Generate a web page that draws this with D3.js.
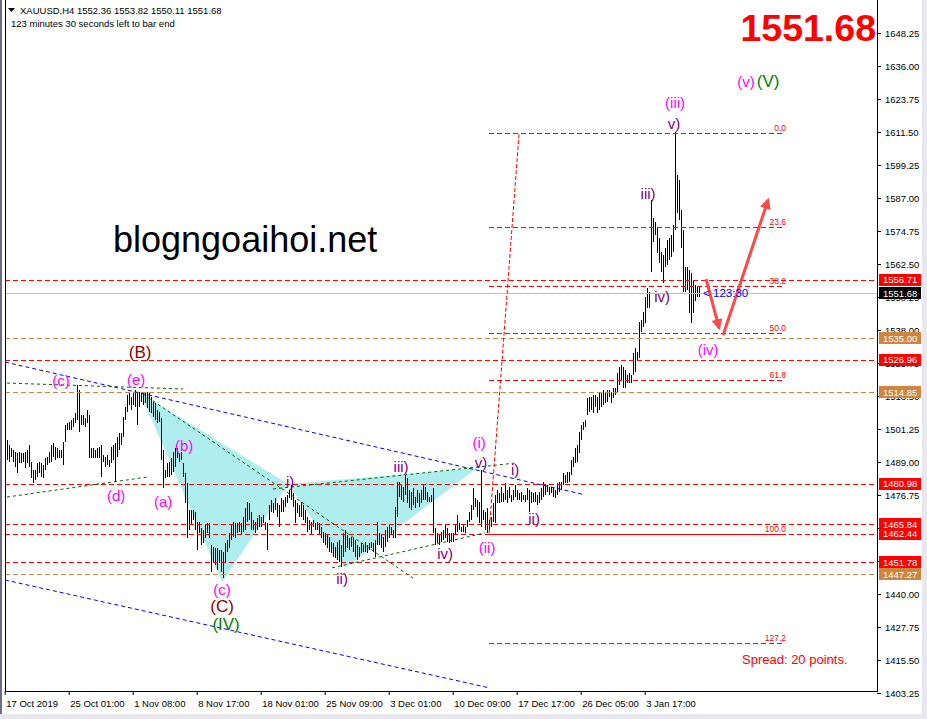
<!DOCTYPE html>
<html><head><meta charset="utf-8">
<script src="https://cdn.jsdelivr.net/npm/d3@7"></script>
<style>
html,body{margin:0;padding:0;background:#fff;}
svg{display:block;font-family:"Liberation Sans",Arial,sans-serif;}
</style></head><body>
<svg id="c" width="927" height="719"></svg>
<script>
// ---------- DATA ----------
const symbolHeader = "XAUUSD,H4  1552.36 1553.82 1550.11 1551.68";
const timerText = "123 minutes 30 seconds left to bar end";
const lastPrice = 1551.68;

const highs = [
1497.2,1495.3,1494.1,1493.5,1492.8,1492.2,1492.8,1492.2,1492.5,1492.8,
1493.5,1495.3,1489.1,1486.0,1486.0,1488.5,1489.1,1488.5,1487.9,1490.4,
1491.0,1492.8,1495.3,1495.9,1494.7,1494.1,1493.5,1493.5,1496.5,1502.7,
1503.4,1504.0,1504.6,1505.2,1507.1,1517.6,1515.7,1506.4,1506.4,1505.2,
1508.3,1506.4,1494.1,1494.1,1493.5,1494.1,1494.7,1495.3,1491.6,1491.0,
1491.6,1489.7,1494.7,1495.3,1495.9,1498.4,1499.7,1499.7,1505.8,1509.5,
1513.9,1514.5,1513.3,1515.1,1515.7,1515.1,1515.1,1515.1,1515.1,1514.5,
1515.1,1514.5,1513.3,1511.4,1510.8,1508.3,1507.7,1505.2,1493.5,1486.0,
1488.5,1489.1,1490.4,1492.8,1494.1,1494.1,1492.2,1492.8,1488.5,1484.8,
1481.1,1471.2,1471.2,1471.2,1470.6,1466.9,1466.9,1464.4,1463.8,1465.6,
1466.3,1466.3,1458.2,1457.6,1457.0,1457.0,1456.3,1456.3,1455.7,1458.8,
1460.1,1462.5,1465.6,1466.9,1466.3,1466.3,1466.9,1466.3,1468.7,1471.8,
1474.3,1473.7,1470.6,1467.5,1466.9,1468.1,1469.3,1468.7,1469.3,1466.9,
1466.3,1473.0,1474.9,1473.7,1475.5,1473.7,1473.0,1475.5,1474.9,1476.1,
1476.8,1478.6,1480.5,1477.4,1474.9,1473.7,1473.0,
1474.3,1473.0,1471.2,1468.7,1467.5,1466.9,1467.5,1466.3,1466.9,1466.3,
1465.0,1463.1,1462.5,1461.9,1461.3,1459.4,1458.8,1457.6,1459.4,1460.1,
1458.2,1462.5,1463.8,1461.9,1460.7,1461.3,1460.7,1460.1,1458.2,1457.6,
1458.8,1458.2,1459.4,1458.2,1458.8,1459.4,1458.8,1460.1,1466.9,1462.5,
1461.9,1461.3,1463.8,1465.0,1465.6,1465.0,1463.8,1472.4,1481.7,1481.7,
1480.5,1479.8,1484.2,1482.9,1478.6,1478.0,1479.2,1476.1,1478.6,1477.4,
1478.6,1480.5,1479.8,1478.0,1476.1,1476.8,1479.2,1464.4,1462.5,1461.9,
1463.1,1463.8,1465.6,1464.4,1462.5,1462.5,1462.5,1465.6,1469.3,1466.3,
1465.0,1465.6,1465.0,1467.5,1470.6,1473.0,1479.2,1475.5,1474.9,1474.3,
1486.0,1471.2,1470.6,1471.8,1467.5,1468.7,1473.7,1476.8,1478.6,1477.4,
1479.8,1477.4,1481.1,1478.6,1479.8,1476.8,1478.6,1480.5,1478.6,1477.4,
1478.0,1476.8,1476.8,1479.2,1478.6,1478.0,1477.4,1478.0,1476.8,1478.0,
1479.2,1481.7,1480.5,1480.5,1479.8,1479.8,1479.2,1478.6,1481.1,1481.7,
1481.7,1484.8,1484.2,1485.4,1485.4,1489.7,1491.0,1494.1,1495.3,1500.3,
1502.7,1504.0,1504.6,
1512.6,1513.3,1513.3,1513.9,1513.9,1513.3,1514.5,1515.1,1515.7,1515.1,
1515.7,1515.7,1515.1,1516.4,1516.4,1521.9,1524.4,1525.0,1524.4,1523.2,
1521.3,1521.9,1521.3,1529.3,1531.2,1529.9,1541.1,1541.7,1544.8,1550.4,
1553.5,1552.2,
1586.3,1579.5,1578.2,1576.3,1572.0,1567.1,1565.8,1568.3,1571.4,1572.0,
1573.3,1577.0,1611.6,1595.5,1593.7,1582.5,1575.1,1561.5,1561.5,1560.3,
1559.0,1556.6,1554.7,1554.1,1553.82
];
const lows = [
1489.7,1489.1,1491.0,1489.1,1487.3,1484.8,1488.5,1488.5,1489.1,1486.7,
1488.5,1487.3,1482.9,1481.1,1482.3,1483.6,1484.8,1483.6,1482.9,1486.0,
1487.9,1488.5,1489.1,1491.0,1489.7,1490.4,1490.4,1490.4,1487.9,1496.5,
1500.9,1500.9,1500.9,1502.1,1503.4,1504.6,1500.3,1502.7,1502.7,1502.1,
1503.4,1490.4,1490.4,1490.4,1490.4,1490.4,1490.4,1483.6,1489.1,1487.3,
1488.0,1487.3,1488.5,1489.7,1481.7,1491.0,1493.5,1495.3,1498.4,1504.6,
1507.7,1510.2,1508.3,1510.2,1509.5,1502.7,1509.5,1511.4,1510.2,1510.8,
1508.9,1507.7,1507.1,1505.8,1504.6,1503.4,1504.0,1489.7,1479.2,1482.9,
1483.6,1483.6,1484.2,1485.4,1487.3,1490.4,1489.1,1489.7,1483.6,1473.7,
1460.7,1463.8,1465.6,1467.5,1463.8,1456.3,1462.5,1458.2,1458.8,1460.7,
1462.5,1460.7,1448.3,1451.4,1450.8,1448.9,1451.4,1448.3,1445.8,1452.0,
1455.7,1457.0,1460.1,1461.3,1460.7,1462.5,1463.1,1461.9,1463.1,1463.8,
1466.9,1467.5,1463.8,1463.8,1462.5,1463.8,1465.0,1465.0,1466.3,1463.8,
1456.3,1467.5,1470.6,1470.0,1471.2,1468.7,1465.0,1470.6,1470.6,1472.4,
1473.7,1475.5,1474.9,1472.4,1466.3,1470.0,1468.7,
1468.7,1467.5,1466.3,1463.1,1463.8,1461.9,1465.0,1463.8,1463.8,1461.9,
1460.7,1458.8,1458.2,1457.0,1455.7,1455.1,1453.9,1453.3,1452.6,1452.0,
1450.2,1453.9,1455.7,1457.0,1456.3,1457.6,1455.7,1453.9,1452.6,1453.9,
1455.1,1455.7,1455.7,1455.1,1456.3,1457.0,1455.7,1453.9,1458.2,1458.2,
1457.0,1455.7,1457.6,1459.4,1460.7,1461.9,1460.7,1460.7,1468.7,1476.1,
1474.9,1474.3,1476.8,1473.7,1471.8,1471.2,1473.0,1471.8,1473.7,1472.4,
1473.7,1474.9,1474.9,1474.3,1474.3,1474.3,1462.5,1458.2,1458.8,1458.2,
1459.4,1460.1,1460.7,1459.4,1458.8,1459.4,1459.4,1461.9,1463.1,1463.8,
1463.1,1463.1,1462.5,1465.0,1466.9,1467.5,1471.2,1472.4,1468.7,1466.3,
1465.0,1467.5,1463.8,1462.5,1463.8,1465.0,1466.9,1466.3,1473.7,1473.7,
1474.3,1474.3,1474.9,1473.7,1475.5,1474.3,1474.9,1476.1,1474.9,1474.9,
1474.3,1474.9,1474.3,1474.9,1470.6,1473.7,1474.3,1474.3,1473.0,1473.7,
1474.9,1476.1,1476.8,1478.0,1476.8,1477.4,1476.1,1475.5,1476.8,1478.0,
1478.6,1480.5,1481.1,1481.1,1481.7,1484.2,1487.3,1488.5,1489.1,1492.2,
1497.2,1500.9,1502.1,
1506.4,1507.7,1508.3,1507.1,1509.5,1507.1,1508.3,1509.5,1510.2,1510.8,
1511.4,1513.3,1510.8,1512.6,1513.9,1514.5,1517.6,1519.4,1516.4,1516.4,
1518.2,1518.2,1518.2,1521.3,1522.5,1526.9,1527.5,1537.4,1539.2,1540.5,
1546.1,1546.1,
1559.6,1570.8,1573.3,1566.5,1562.8,1559.6,1555.3,1561.5,1562.1,1564.0,
1565.2,1567.1,1575.1,1581.3,1578.8,1568.3,1552.2,1552.2,1552.9,1544.2,
1540.5,1544.2,1548.9,1550.4,1550.11
];

const yTicks = [1648.25,1636.00,1623.75,1611.50,1599.25,1587.00,1574.75,1562.50,1550.25,1538.00,
  1525.75,1513.50,1501.25,1489.00,1476.75,1464.50,1452.25,1440.00,1427.75,1415.50,1403.25];
const xTickBars = [-1,31,63,95,127,159,191,223,255,287,319];
const xTickLabels = ["17 Oct 2019","25 Oct 01:00","1 Nov 08:00","8 Nov 17:00","18 Nov 01:00",
  "25 Nov 09:00","3 Dec 01:00","10 Dec 09:00","17 Dec 17:00","26 Dec 05:00","3 Jan 17:00"];

// horizontal price levels: kind r = red line, o = orange zone line
const levelPrices = [1556.71,1535.00,1526.96,1514.85,1480.98,1465.84,1462.44,1451.78,1447.27];
const levelKinds  = ["r","o","r","o","r","r","r","r","o"];

// fibonacci
const fibLevels = [0.0,23.6,38.2,50.0,61.8,100.0,127.2];
const fibHigh = 1611.3, fibLow = 1462.44;
const fibFromBar = 241, fibToBar = 389;
const fibDiag = [241.2,1462.6,256.2,1611.1];

// trendlines [bar1, price1, bar2, price2]
const blueLines = [[-0.85,1526.1,289.2,1476.8],[-0.85,1445.2,241.7,1405.1]];
const greenLines = [[0.15,1518.3,88.2,1516.1],[0.15,1476.0,70.2,1483.4],
  [68.2,1514.2,203.2,1445.9],[133.2,1479.0,254.2,1488.6],[162.7,1449.7,239.2,1462.7]];
// harmonic pattern triangles
const triangles = [
  [[66.7,1514.6],[107.7,1444.5],[140.7,1480.8]],
  [[140.7,1480.8],[169.2,1449.7],[235.2,1486.8]]
];
// projected path arrows
const arrows = [[349.7,1556.9,356.2,1538.7],[358.2,1536.1,380.7,1586.3]];

// wave labels: text, bar, price, kind (m=magenta minor, p=purple, r=dark red, g=green)
const waveText  = ["(B)","(e)","(c)","(d)","(a)","(b)","(c)","(C)","(IV)","i)","ii)","iii)","iv)",
  "(i)","v)","(ii)","i)","ii)","iii)","iv)","(iii)","v)","(iv)","(v)","(V)"];
const waveBar   = [66.7,64.7,27.2,54.7,78.2,88.7,107.7,107.7,109.7,141.7,167.7,197.2,219.2,
  236.2,237.2,240.2,254.2,263.7,320.7,327.7,334.2,333.7,350.7,369.7,380.7];
const wavePrice = [1529.8,1519.8,1519.1,1476.4,1474.2,1495.3,1441.7,1435.3,1428.7,1481.9,1445.9,1487.2,1454.9,
  1496.1,1489.0,1457.4,1486.4,1468.2,1588.5,1550.3,1622.3,1614.5,1530.9,1630.1,1630.1];
const waveKind  = ["r","m","m","m","m","m","m","r","g","p","p","p","p",
  "m","p","m","p","p","p","p","m","p","m","m","g"];

const watermark = "blogngoaihoi.net";
const spreadText = "Spread: 20 points.";
const countdown = "< 123:30";

// ---------- LAYOUT ----------
const W = 927, H = 719;
const plotL = 5, plotR = 877, plotB = 691, plotT = 0;
const xs = d3.scaleLinear().domain([0, highs.length - 1]).range([6.7, 6.7 + 2 * (highs.length - 1)]);
const ys = d3.scaleLinear().domain([1403.25, 1648.25]).range([693, 33]);
const kindColor = {m:"#FF00FF", p:"#800080", r:"#8B0000", g:"#008000"};
const levelColor = {r:"#FF0000", o:"#CD853F"};
const RED = "#FF0000";

const svg = d3.select("#c");
svg.append("rect").attr("width",W).attr("height",H).attr("fill","#fff");
const defs = svg.append("defs");
defs.append("clipPath").attr("id","plot").append("rect")
  .attr("x",plotL).attr("y",plotT).attr("width",plotR-plotL).attr("height",plotB-plotT);
defs.append("marker").attr("id","ah").attr("viewBox","0 0 10 10").attr("refX",8).attr("refY",5)
  .attr("markerWidth",13).attr("markerHeight",11).attr("markerUnits","userSpaceOnUse").attr("orient","auto")
  .append("path").attr("d","M0,0 L10,5 L0,10 Z").attr("fill","#FF4848");

const g = svg.append("g").attr("clip-path","url(#plot)");

// triangles
g.selectAll("path.tri").data(triangles).join("path").attr("class","tri")
  .attr("d", t => d3.line().x(d=>xs(d[0])).y(d=>ys(d[1]))(t) + "Z")
  .attr("fill","#AFEEEE").attr("stroke","none");

// watermark
g.append("text").attr("x",113).attr("y",252).attr("font-size",36).attr("fill","#000").text(watermark);

// bars
g.append("g").selectAll("line").data(highs).join("line")
  .attr("x1",(d,i)=>Math.round(xs(i))+0.5).attr("x2",(d,i)=>Math.round(xs(i))+0.5)
  .attr("y1",(d)=>Math.round(ys(d)))
  .attr("y2",(d,i)=>Math.max(Math.round(ys(lows[i])), Math.round(ys(d))+1))
  .attr("stroke","#000").attr("stroke-width",1).attr("shape-rendering","crispEdges");

// current price line
g.append("line").attr("x1",plotL).attr("x2",plotR).attr("y1",Math.round(ys(lastPrice))+0.5)
  .attr("y2",Math.round(ys(lastPrice))+0.5).attr("stroke","#C0C0C0").attr("shape-rendering","crispEdges");

// levels
g.selectAll("line.lvl").data(levelPrices).join("line").attr("class","lvl")
  .attr("x1",plotL).attr("x2",plotR)
  .attr("y1",d=>Math.round(ys(d))+0.5).attr("y2",d=>Math.round(ys(d))+0.5)
  .style("stroke",(d,i)=>levelColor[levelKinds[i]]).attr("stroke-dasharray","5,3")
  .attr("shape-rendering","crispEdges");

// fib
const fibPrice = l => fibHigh - (fibHigh - fibLow) * l / 100;
const fibX1 = Math.round(xs(fibFromBar)), fibX2 = Math.round(xs(fibToBar));
g.selectAll("line.fib").data(fibLevels).join("line").attr("class","fib")
  .attr("x1",fibX1).attr("x2",fibX2)
  .attr("y1",d=>Math.round(ys(fibPrice(d)))+0.5).attr("y2",d=>Math.round(ys(fibPrice(d)))+0.5)
  .style("stroke",RED).attr("stroke-width",1).attr("stroke-dasharray","5,3").attr("shape-rendering","crispEdges");
g.selectAll("text.fib").data(fibLevels).join("text").attr("class","fib")
  .attr("x",fibX2+1).attr("y",d=>ys(fibPrice(d))-2).attr("text-anchor","end")
  .attr("font-size",8.5).style("fill",RED).text(d=>d.toFixed(1));
g.append("line").attr("x1",xs(fibDiag[0])).attr("y1",ys(fibDiag[1]))
  .attr("x2",xs(fibDiag[2])).attr("y2",ys(fibDiag[3]))
  .style("stroke",RED).attr("stroke-dasharray","4,2");

// trendlines
g.selectAll("line.blue").data(blueLines).join("line").attr("class","blue")
  .attr("x1",d=>xs(d[0])).attr("y1",d=>ys(d[1])).attr("x2",d=>xs(d[2])).attr("y2",d=>ys(d[3]))
  .style("stroke","#0000FF").attr("stroke-dasharray","4,3");
g.selectAll("line.green").data(greenLines).join("line").attr("class","green")
  .attr("x1",d=>xs(d[0])).attr("y1",d=>ys(d[1])).attr("x2",d=>xs(d[2])).attr("y2",d=>ys(d[3]))
  .style("stroke","#006400").attr("stroke-dasharray","3,3");

// arrows
g.selectAll("line.arr").data(arrows).join("line").attr("class","arr")
  .attr("x1",d=>xs(d[0])).attr("y1",d=>ys(d[1])).attr("x2",d=>xs(d[2])).attr("y2",d=>ys(d[3]))
  .style("stroke","#FF4848").attr("stroke-width",3).attr("marker-end","url(#ah)");

// wave labels
g.selectAll("text.wave").data(waveText).join("text").attr("class","wave")
  .attr("x",(d,i)=>xs(waveBar[i])).attr("y",(d,i)=>ys(wavePrice[i]))
  .attr("text-anchor","middle").attr("dominant-baseline","central")
  .attr("font-size",(d,i)=>(waveKind[i]==="r"||waveKind[i]==="g")?17:15)
  .style("fill",(d,i)=>kindColor[waveKind[i]]).text(d=>d);

// countdown
g.append("text").attr("x",xs(348.2)).attr("y",ys(lastPrice)+4).attr("font-size",11.5)
  .style("fill","#0000FF").text(countdown);
// spread
g.append("text").attr("x",742).attr("y",664).attr("font-size",13).style("fill",RED).text(spreadText);
// big price
svg.append("text").attr("x",876).attr("y",41).attr("text-anchor","end").attr("font-size",37.5)
  .attr("font-weight","bold").style("fill",RED).text(lastPrice.toFixed(2));

// header
svg.append("path").attr("d","M8,8 L15,8 L11.5,12 Z").attr("fill","#000");
svg.append("text").attr("x",20).attr("y",14).attr("font-size",9.5).attr("fill","#000").text(symbolHeader);
svg.append("text").attr("x",11).attr("y",27).attr("font-size",9.5).attr("fill","#000").text(timerText);

// axes
const yAxis = d3.axisRight(ys).tickValues(yTicks).tickFormat(d3.format(".2f")).tickSize(4).tickPadding(4);
const ya = svg.append("g").attr("transform",`translate(${plotR},0)`).call(yAxis);
ya.select(".domain").remove();
ya.selectAll("text").attr("font-size",9.5).attr("font-family","Liberation Sans, Arial").attr("fill","#000");
ya.selectAll("line").attr("stroke","#000");

const xAxis = d3.axisBottom(xs).tickValues(xTickBars).tickFormat((d,i)=>xTickLabels[i]).tickSize(4).tickPadding(5);
const xa = svg.append("g").attr("transform",`translate(0,${plotB})`).call(xAxis);
xa.select(".domain").remove();
xa.selectAll("text").attr("font-size",9.5).attr("font-family","Liberation Sans, Arial").attr("fill","#000")
  .attr("text-anchor","start").attr("dx",1);
xa.selectAll("line").attr("stroke","#000");

// frame
svg.append("path").attr("d",`M${plotL+0.5},0 V${plotB+0.5} H${plotR+0.5} V0`)
  .attr("fill","none").attr("stroke","#000").attr("shape-rendering","crispEdges");

// price boxes
const boxes = levelPrices.map((p,i)=>({p, c: levelColor[levelKinds[i]]})).concat([{p:lastPrice, c:"#000"}]);
const bx = svg.append("g");
boxes.forEach(b => {
  const y = ys(b.p);
  bx.append("rect").attr("x",879).attr("y",Math.round(y)-6).attr("width",42).attr("height",12).style("fill",b.c);
  bx.append("text").attr("x",883).attr("y",y).attr("dominant-baseline","central").attr("font-size",9.5)
    .style("fill","#fff").text(b.p.toFixed(2));
});

// window chrome
svg.append("rect").attr("x",0).attr("y",0).attr("width",2).attr("height",H).attr("fill","#6d6d80");
svg.append("rect").attr("x",922).attr("y",0).attr("width",5).attr("height",H).attr("fill","#e8e8ee");
svg.append("rect").attr("x",0).attr("y",714).attr("width",W).attr("height",5).attr("fill","#e8e8ee");
</script>
</body></html>
